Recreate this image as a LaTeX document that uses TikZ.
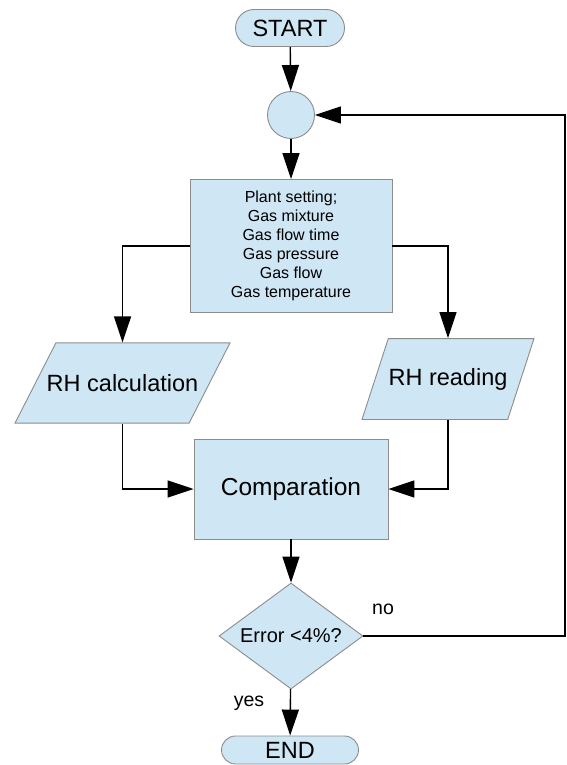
\documentclass[tikz,border=0pt]{standalone}
\usepackage{fontspec}
\setmainfont{Liberation Sans}
\usetikzlibrary{shapes,shapes.geometric,shapes.misc,arrows.meta,positioning}
\definecolor{boxfill}{HTML}{CFE6F4}
\definecolor{boxline}{HTML}{8C8C8C}

\begin{document}
\begin{tikzpicture}[
    x=1pt, y=-1pt,
    base/.style={draw=boxline, fill=boxfill, line width=0.9pt, inner sep=0pt, align=center},
    terminal/.style={base, rounded rectangle, font=\fontsize{23.5}{25}\selectfont},
    process/.style={base, rectangle},
    inout/.style={base, trapezium, trapezium stretches body=true, font=\fontsize{23.5}{25}\selectfont},
    decision/.style={base, diamond, aspect=1.36, minimum width=144pt, minimum height=106pt, font=\fontsize{20}{22}\selectfont},
    arrow/.style={-{Triangle[length=26pt,width=17pt]}, line width=1.4pt},
    label/.style={font=\fontsize{19.5}{21}\selectfont, inner sep=0pt}
]
    \useasboundingbox (0,0) rectangle (566,765);

    % Start and join point
    \node[terminal, minimum width=109pt, minimum height=37pt] (start) at (290,28) {START};
    \node[base, circle, minimum size=47pt] (join) at (291,115) {};

    % Plant setting
    \node[process, minimum width=202pt, minimum height=133pt,
          font=\fontsize{16}{19}\selectfont] (plant) at (291,246) {
        Plant setting;\\
        Gas mixture\\
        Gas flow time\\
        Gas pressure\\
        Gas flow\\
        Gas temperature
    };

    % Calculation and reading
    \node[inout, minimum width=215pt, inner ysep=31.5pt, inner xsep=-10pt,
          trapezium left angle=63, trapezium right angle=117] (calc) at (122.5,383) {RH calculation};
    \node[inout, minimum width=172pt, inner ysep=29.5pt, inner xsep=0pt,
          trapezium left angle=72, trapezium right angle=108] (read) at (448,379) {RH reading};

    % Comparation
    \node[process, minimum width=194pt, minimum height=100pt,
          font=\fontsize{24.5}{26}\selectfont] (comp) at (291,489) {Comparation};

    % Decision and end
    \node[decision] (check) at (291,636) {Error <4\%?};
    \node[terminal, minimum width=137pt, minimum height=28pt] (end) at (290,750) {END};
    \coordinate (loop) at (565,636);

    \draw[arrow] (start) -- (join);
    \draw[arrow] (join) -- (plant);
    \draw[arrow] (plant.west) -| (calc.north);
    \draw[arrow] (plant.east) -| (read.north);
    \draw[arrow] (calc.south) |- (comp.west);
    \draw[arrow] (read.south) |- (comp.east);
    \draw[arrow] (comp) -- (check);
    \draw[arrow] (check) -- (end);
    \draw[arrow] (check.east) -- (loop) |- (join.east);

    % Branch labels
    \node[label] (no) at (383,609) {no};
    \node[label] (yes) at (249,703) {yes};
\end{tikzpicture}
\end{document}
